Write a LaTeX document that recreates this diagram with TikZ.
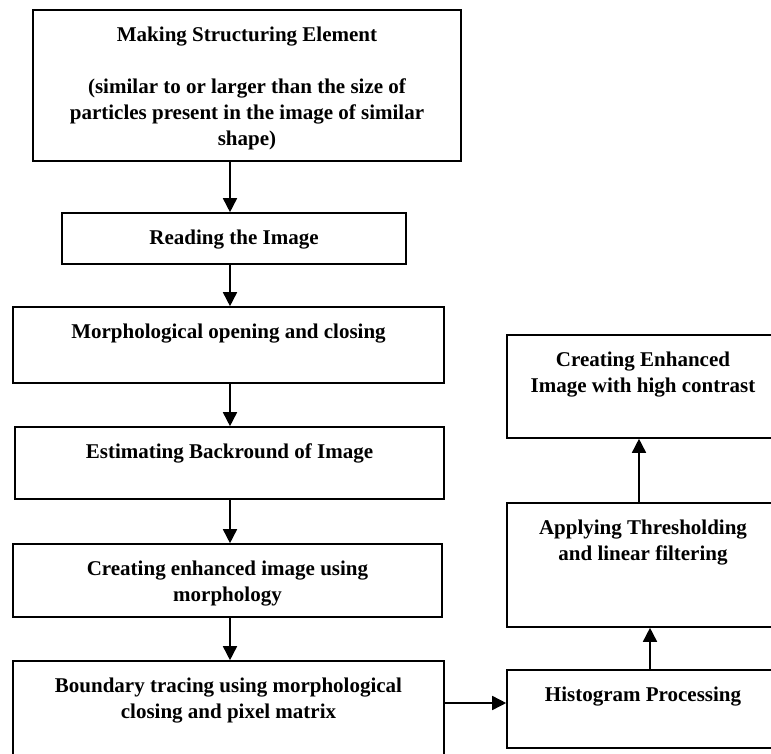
\documentclass[tikz,border=0pt]{standalone}
\usepackage{fontspec}
\setmainfont{Liberation Serif}
\usetikzlibrary{arrows.meta}

\begin{document}
\begin{tikzpicture}[x=1pt,y=-1pt,>={Triangle[width=14pt,length=14pt]},
  stepbox/.style={draw,line width=1.6pt,inner sep=0pt,
    font=\fontsize{21}{26}\selectfont\bfseries},
  flow/.style={->,line width=1.6pt}
  ]

  % text sits at the top of each box
  \def\boxtext#1#2#3{\parbox[c][#2pt][t]{#1pt}{\centering\vspace*{17pt}#3}}
  \useasboundingbox (0,0) rectangle (771,754);

  % left column
  \node[stepbox] (make) at (247,85.5) {\boxtext{428}{151}{Making Structuring Element\\[26pt]
    (similar to or larger than the size of\\ particles present in the image of similar\\ shape)}};
  \node[stepbox] (read) at (234,238.5) {\boxtext{344}{51}{Reading the Image}};
  \node[stepbox] (morph) at (228.5,345) {\boxtext{431}{76}{Morphological opening and closing}};
  \node[stepbox] (estim) at (229.5,463) {\boxtext{429}{72}{Estimating Backround of Image}};
  \node[stepbox] (create) at (227.5,580.5) {\boxtext{429}{73}{Creating enhanced image using\\ morphology}};
  \node[stepbox] (bound) at (228.5,730.5) {\boxtext{431}{139}{Boundary tracing using morphological\\ closing and pixel matrix}};

  % right column
  \node[stepbox] (enh) at (643,386.5) {\boxtext{272}{103}{Creating Enhanced\\ Image with high contrast}};
  \node[stepbox] (apply) at (643,565) {\boxtext{272}{124}{Applying Thresholding\\ and linear filtering}};
  \node[stepbox] (hist) at (643,709) {\boxtext{272}{78}{Histogram Processing}};

  \coordinate (spine) at (230,0);
  \coordinate (lift1) at (639,0);
  \coordinate (lift2) at (650,0);
  \coordinate (link) at (0,703);

  \draw[flow] (make.south -| spine) -- (read.north -| spine);
  \draw[flow] (read.south -| spine) -- (morph.north -| spine);
  \draw[flow] (morph.south -| spine) -- (estim.north -| spine);
  \draw[flow] (estim.south -| spine) -- (create.north -| spine);
  \draw[flow] (create.south -| spine) -- (bound.north -| spine);
  \draw[flow] (bound.east |- link) -- (hist.west |- link);
  \draw[flow] (hist.north -| lift2) -- (apply.south -| lift2);
  \draw[flow] (apply.north -| lift1) -- (enh.south -| lift1);

\end{tikzpicture}
\end{document}
